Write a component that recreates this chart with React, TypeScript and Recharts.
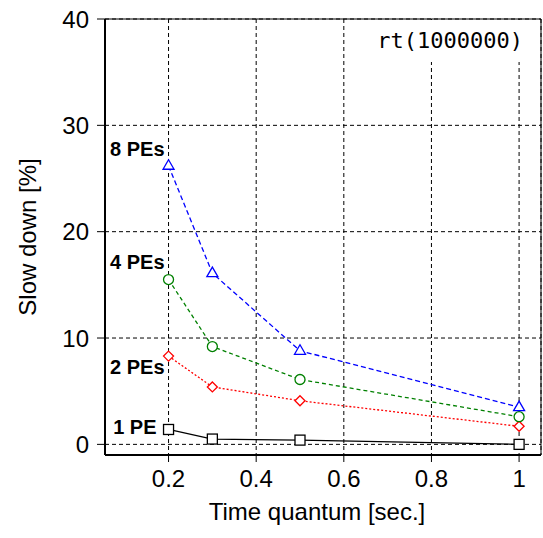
import React from 'react';
import { LineChart, Line, XAxis, YAxis, CartesianGrid, ReferenceArea, ReferenceDot } from 'recharts';

// time quantum (sec.)
const quanta = [0.2, 0.3, 0.5, 1];

// slow down [%] per number of PEs
const pe1 = [1.4, 0.5, 0.4, 0];
const pe2 = [8.3, 5.4, 4.1, 1.7];
const pe4 = [15.5, 9.2, 6.1, 2.6];
const pe8 = [26.2, 16.1, 8.8, 3.5];

const xTicks = [0.2, 0.4, 0.6, 0.8, 1];
const yTicks = [0, 10, 20, 30, 40];

// series annotations, anchored at (x, y) in data units
const annotationText = ['8 PEs', '4 PEs', '2 PEs', '1 PE'];
const annotationY = [27.1, 16.5, 6.6, 1.0];

const data = quanta.map((q, i) => ({
  q,
  pe1: pe1[i],
  pe2: pe2[i],
  pe4: pe4[i],
  pe8: pe8[i],
}));

const SANS = '"Liberation Sans", Arial, sans-serif';

const Square = ({ cx, cy, color }: any) => (
  <rect x={cx - 5} y={cy - 5} width={10} height={10} fill="#fff" stroke={color} strokeWidth={1.3} />
);

const Diamond = ({ cx, cy, color }: any) => (
  <path d={`M${cx},${cy - 5} L${cx + 5},${cy} L${cx},${cy + 5} L${cx - 5},${cy} Z`} fill="#fff" stroke={color} strokeWidth={1.3} />
);

const Circle = ({ cx, cy, color }: any) => (
  <circle cx={cx} cy={cy} r={5} fill="#fff" stroke={color} strokeWidth={1.3} />
);

const Triangle = ({ cx, cy, color }: any) => (
  <path d={`M${cx},${cy - 6} L${cx + 5.5},${cy + 3.5} L${cx - 5.5},${cy + 3.5} Z`} fill="#fff" stroke={color} strokeWidth={1.3} />
);

const dotOf = (Shape: any, color: string) => (p: any) => <Shape key={p.index} cx={p.cx} cy={p.cy} color={color} />;

const App: React.FC = () => {
  return (
    <div style={{ position: 'absolute', left: 0, top: 0, width: 543, height: 538, background: '#fff' }}>
      <LineChart width={543} height={538} data={data} margin={{ top: 19, right: 2, bottom: 0, left: 0 }}>
        <CartesianGrid stroke="#000" strokeDasharray="4 3" strokeWidth={1} />
        <XAxis
          dataKey="q"
          type="number"
          domain={[0.055, 1.05]}
          ticks={xTicks}
          allowDataOverflow
          height={83}
          axisLine={{ stroke: '#000', strokeWidth: 2 }}
          tickLine={{ stroke: '#000', strokeWidth: 1 }}
          tickSize={7}
          tickMargin={8}
          tick={{ fill: '#000', fontSize: 24, fontFamily: SANS }}
          label={{ value: 'Time quantum [sec.]', position: 'insideBottom', offset: 18, dx: -6, fill: '#000', fontSize: 24, fontFamily: SANS }}
        />
        <YAxis
          type="number"
          domain={[-1, 40]}
          ticks={yTicks}
          allowDataOverflow
          width={105}
          axisLine={{ stroke: '#000', strokeWidth: 2 }}
          tickLine={{ stroke: '#000', strokeWidth: 1 }}
          tickSize={8}
          tickMargin={8}
          tick={{ fill: '#000', fontSize: 24, fontFamily: SANS }}
          label={{
            content: ({ viewBox }: any) => {
              const cx = viewBox.x + 27;
              const cy = viewBox.y + viewBox.height / 2;
              return (
                <text x={cx} y={cy} transform={`rotate(-90, ${cx}, ${cy})`} textAnchor="middle" dominantBaseline="central" fill="#000" fontSize={24} fontFamily={SANS}>
                  Slow down [%]
                </text>
              );
            },
          }}
        />
        <ReferenceArea x1={0.055} x2={1.05} y1={-1} y2={40} fill="none" stroke="#000" strokeWidth={1} ifOverflow="visible" />

        <Line dataKey="pe1" stroke="#000" strokeWidth={1.3} dot={dotOf(Square, '#000')} activeDot={false} isAnimationActive={false} />
        <Line dataKey="pe2" stroke="#ff0000" strokeWidth={1.3} strokeDasharray="2 2" dot={dotOf(Diamond, '#ff0000')} activeDot={false} isAnimationActive={false} />
        <Line dataKey="pe4" stroke="#008000" strokeWidth={1.3} strokeDasharray="4 3" dot={dotOf(Circle, '#008000')} activeDot={false} isAnimationActive={false} />
        <Line dataKey="pe8" stroke="#0000ff" strokeWidth={1.3} strokeDasharray="5 3" dot={dotOf(Triangle, '#0000ff')} activeDot={false} isAnimationActive={false} />

        {annotationText.map((t, i) => (
          <ReferenceDot
            key={t}
            x={quanta[0]}
            y={annotationY[i]}
            r={0}
            fill="none"
            stroke="none"
            label={{
              content: ({ viewBox }: any) => (
                <text x={viewBox.x - (i === 3 ? 12 : 4)} y={viewBox.y} textAnchor="end" fill="#000" fontSize={20} fontWeight="bold" fontFamily={SANS}>
                  {t}
                </text>
              ),
            }}
          />
        ))}
      </LineChart>
      <div
        style={{
          position: 'absolute',
          left: 370,
          top: 20,
          width: 170,
          height: 42,
          background: '#fff',
          boxSizing: 'border-box',
          paddingTop: 10,
          paddingRight: 17,
          textAlign: 'right',
          fontFamily: '"DejaVu Sans Mono", monospace',
          fontSize: 22,
          lineHeight: '22px',
          color: '#000',
        }}
      >
        rt(1000000)
      </div>
    </div>
  );
};

export default App;
